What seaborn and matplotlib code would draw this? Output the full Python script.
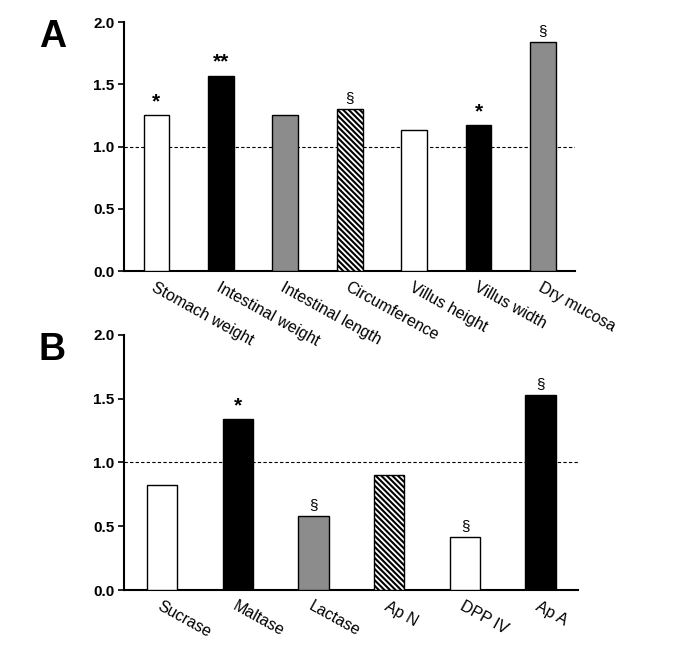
import numpy as np
import pandas as pd
import matplotlib
matplotlib.use("Agg")
import matplotlib.pyplot as plt
import seaborn as sns

# Panel A data
labels_a = ["Stomach weight", "Intestinal weight", "Intestinal length", "Circumference",
            "Villus height", "Villus width", "Dry mucosa"]
values_a = [1.25, 1.57, 1.25, 1.30, 1.13, 1.17, 1.84]
marks_a = ["*", "**", "", "§", "", "*", "§"]

# Panel B data
labels_b = ["Sucrase", "Maltase", "Lactase", "Ap N", "DPP IV", "Ap A"]
values_b = [0.82, 1.34, 0.58, 0.90, 0.42, 1.53]
marks_b = ["", "*", "§", "", "§", "§"]

# fill style cycle: white, black, gray, hatched
fills = ["white", "black", "#8c8c8c", "hatch"]

sns.set_style("white")
plt.rcParams["font.family"] = ["Liberation Sans", "DejaVu Sans"]
plt.rcParams["text.color"] = "black"
plt.rcParams["xtick.color"] = "black"
plt.rcParams["ytick.color"] = "black"
plt.rcParams["hatch.linewidth"] = 1.5


def draw_panel(ax, labels, values, marks, letter):
    df = pd.DataFrame({"label": labels, "value": values})
    colors = []
    for i in range(len(labels)):
        f = fills[i % 4]
        colors.append("white" if f == "hatch" else f)
    sns.barplot(data=df, x="label", y="value", hue="label", palette=colors,
                legend=False, width=0.4, edgecolor="black", linewidth=1.0,
                saturation=1, ax=ax)
    for i, p in enumerate(ax.patches):
        if fills[i % 4] == "hatch":
            p.set_hatch("\\\\\\\\\\\\")
        p.set_zorder(3)

    n = len(labels)
    ax.set_xlim(-0.5, n - 0.5)
    ax.set_ylim(0, 2.0)
    ax.axhline(1.0, color="black", linestyle=(0, (3, 2)), linewidth=0.8, zorder=2)

    # significance marks above bars
    for i, (v, m) in enumerate(zip(values, marks)):
        if m:
            star = "*" in m
            ax.text(i, v + 0.03, m, ha="center", va="bottom",
                    fontsize=15 if star else 11, fontweight="bold" if star else "normal")

    ax.set_yticks([0.0, 0.5, 1.0, 1.5, 2.0])
    ax.set_yticklabels(["0.0", "0.5", "1.0", "1.5", "2.0"], fontsize=11, fontweight="bold")
    ax.set_xticks(range(n))
    ax.set_xticklabels(labels, rotation=-29, ha="left", va="top",
                       rotation_mode="anchor", fontsize=11.5)
    ax.set_xticks(np.arange(n) + 0.5, minor=True)
    ax.tick_params(axis="x", which="major", length=0, pad=6)
    ax.tick_params(axis="x", which="minor", length=4, width=1.2, direction="out")
    ax.tick_params(axis="y", length=4, width=1.2, direction="out", left=True, pad=3)
    ax.set_xlabel("")
    ax.set_ylabel("")
    sns.despine(ax=ax)
    for s in ["left", "bottom"]:
        ax.spines[s].set_linewidth(1.5)
        ax.spines[s].set_color("black")
    ax.text(-0.128, 1.012, letter, transform=ax.transAxes, fontsize=27,
            fontweight="bold", ha="right", va="top")


fig = plt.figure(figsize=(6.75, 6.5), dpi=100)
ax_a = fig.add_axes([0.184, 0.583, 0.668, 0.383])
ax_b = fig.add_axes([0.184, 0.092, 0.673, 0.393])

draw_panel(ax_a, labels_a, values_a, marks_a, "A")
draw_panel(ax_b, labels_b, values_b, marks_b, "B")

# keep panel A's rotated labels visible over panel B
ax_a.set_zorder(2)
ax_a.patch.set_alpha(0)
ax_b.patch.set_alpha(0)

fig.savefig("out.png", dpi=100)
